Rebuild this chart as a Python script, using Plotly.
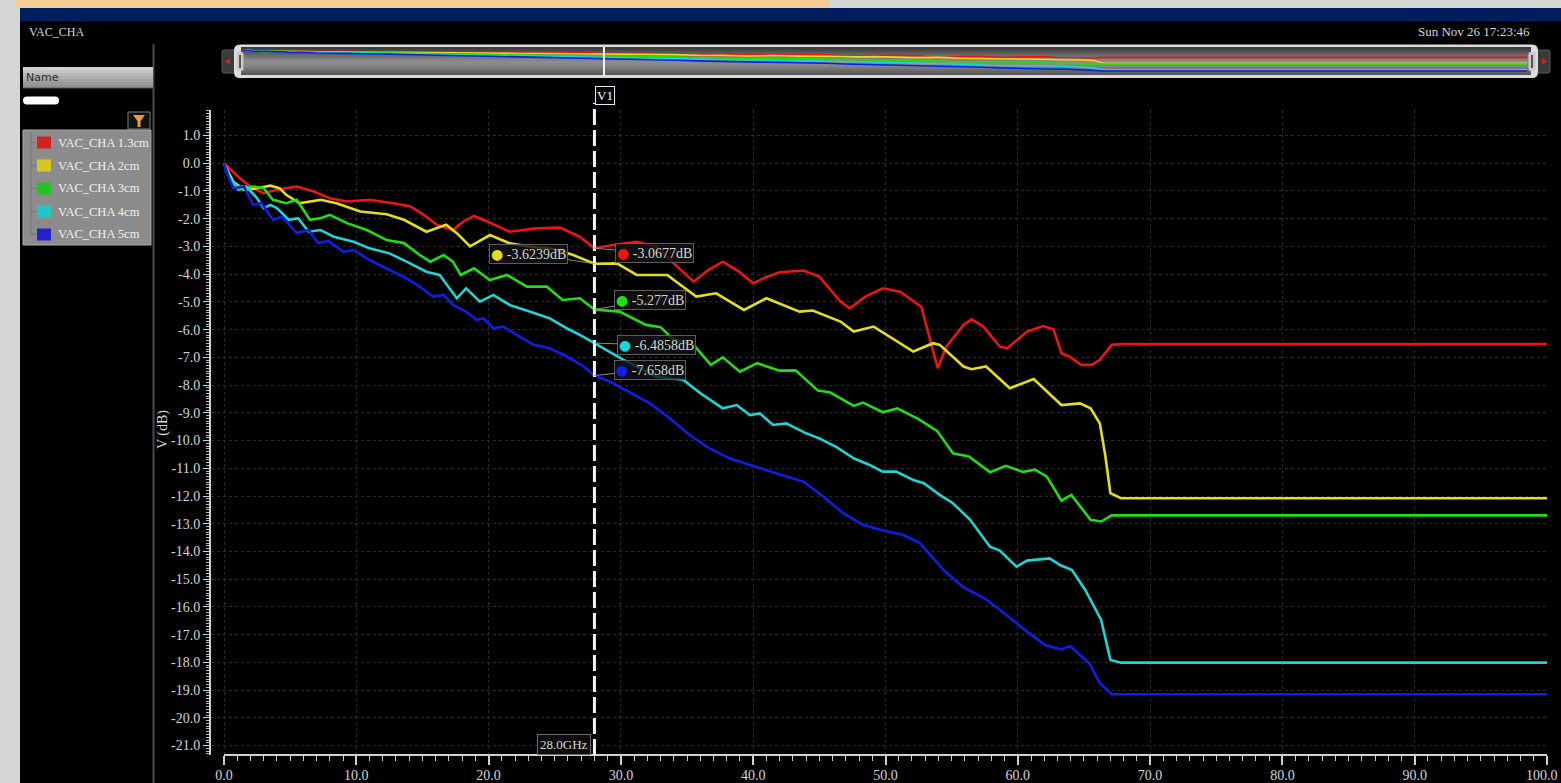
import plotly.graph_objects as go

# ---------------- data: gain vs. frequency for each channel length ----------------
series_names = ["VAC_CHA 1.3cm", "VAC_CHA 2cm", "VAC_CHA 3cm", "VAC_CHA 4cm", "VAC_CHA 5cm"]
line_colors = ["#ec1414", "#e6dc1e", "#22dc14", "#1ed4d4", "#0f1ee6"]
swatch_colors = ["#d42222", "#d2ca22", "#22c222", "#22c6c6", "#2222cc"]

freq_1p3cm = [0, 1.2, 2.2, 3.0, 4.0, 5.5, 6.8, 8.0, 9.3, 11.0, 12.8, 14.1, 15.1, 16.1, 17.3, 18.1,
              18.9, 19.9, 21.6, 23.6, 25.4, 26.9, 28.0, 29.4, 31.2, 32.7, 34.0, 35.5, 36.6, 37.7,
              38.9, 40.0, 41.0, 42.0, 43.8, 45.0, 46.6, 47.3, 48.5, 49.8, 51.1, 52.7, 53.95, 54.6,
              55.9, 56.5, 57.4, 58.65, 59.2, 60.7, 61.9, 62.7, 63.3, 63.9, 64.8, 65.6, 66.2, 67.1,
              68.0, 100.0]
db_1p3cm = [0, -0.54, -0.9, -1.08, -0.96, -0.84, -1.02, -1.26, -1.38, -1.32, -1.44, -1.56, -1.86,
            -2.22, -2.41, -2.1, -1.9, -2.1, -2.47, -2.35, -2.32, -2.65, -3.0677, -2.95, -2.83,
            -3.01, -3.61, -4.27, -3.85, -3.55, -3.9, -4.33, -4.1, -3.93, -3.87, -4.09, -4.99,
            -5.23, -4.8, -4.51, -4.63, -5.17, -7.39, -6.61, -5.83, -5.63, -5.89, -6.61, -6.67,
            -6.07, -5.87, -5.99, -6.85, -6.97, -7.27, -7.27, -7.09, -6.55, -6.52, -6.52]

freq_2cm = [0, 0.7, 1.5, 2.5, 3.5, 4.2, 4.7, 5.7, 7.3, 8.5, 10.3, 12.3, 13.6, 15.3, 16.8, 17.6,
            18.6, 20.1, 21.6, 23.1, 24.9, 26.4, 28.0, 29.7, 31.2, 33.5, 35.7, 37.2, 39.3, 41.0,
            43.5, 44.5, 46.6, 47.6, 49.1, 52.1, 53.6, 54.1, 55.9, 56.5, 57.6, 59.4, 61.2, 63.3,
            64.7, 65.5, 66.2, 66.6, 67.0, 67.8, 100.0]
db_2cm = [0, -0.66, -0.96, -0.9, -0.81, -0.9, -1.14, -1.44, -1.32, -1.44, -1.74, -1.84, -2.04,
          -2.47, -2.22, -2.52, -3.0, -2.59, -2.89, -3.0, -3.09, -3.31, -3.6239, -3.61, -4.03,
          -4.03, -4.81, -4.69, -5.29, -4.87, -5.35, -5.31, -5.71, -6.07, -5.89, -6.79, -6.49,
          -6.55, -7.33, -7.43, -7.33, -8.11, -7.78, -8.72, -8.66, -8.84, -9.38, -10.5, -11.9,
          -12.08, -12.08]

freq_3cm = [0, 0.5, 1.1, 2.2, 3.0, 3.7, 4.7, 5.5, 6.5, 7.3, 8.0, 9.3, 10.8, 12.3, 13.6, 14.8,
            15.6, 16.6, 17.3, 17.9, 18.9, 20.1, 21.4, 22.9, 24.4, 25.6, 26.9, 28.0, 29.9, 31.9,
            33.0, 34.0, 35.5, 36.8, 37.7, 39.0, 40.3, 42.0, 43.2, 44.9, 45.8, 47.6, 48.3, 49.8,
            50.9, 52.5, 53.9, 55.1, 56.3, 57.9, 59.1, 60.4, 61.3, 62.2, 63.3, 64.05, 65.5, 66.3,
            67.1, 100.0]
db_3cm = [0, -0.6, -0.96, -0.84, -0.9, -1.32, -1.44, -1.32, -2.04, -1.98, -1.86, -2.16, -2.41,
          -2.77, -2.88, -3.31, -3.55, -3.31, -3.55, -4.03, -3.79, -4.21, -4.03, -4.45, -4.45,
          -4.93, -4.87, -5.277, -5.35, -5.83, -5.91, -6.37, -6.55, -7.27, -7.0, -7.52, -7.21,
          -7.48, -7.47, -8.2, -8.26, -8.75, -8.63, -8.98, -8.84, -9.23, -9.65, -10.46, -10.57,
          -11.14, -10.91, -11.13, -11.05, -11.3, -12.17, -11.96, -12.86, -12.92, -12.7, -12.7]

freq_4cm = [0, 0.5, 1.0, 1.7, 2.5, 3.0, 3.5, 4.0, 4.9, 5.6, 6.4, 7.3, 8.3, 9.8, 11.0, 12.5, 13.8,
            15.3, 16.3, 17.6, 18.3, 19.35, 20.35, 21.6, 23.1, 24.6, 25.9, 26.9, 28.0, 30.2, 32.7,
            34.7, 36.0, 37.7, 38.75, 39.75, 40.5, 41.5, 42.5, 44.0, 45.0, 46.3, 47.6, 48.8, 49.8,
            50.8, 52.1, 52.9, 54.1, 55.1, 56.4, 57.9, 58.65, 59.9, 60.7, 62.4, 63.2, 64.1, 65.1,
            66.3, 67.0, 67.8, 100.0]
db_4cm = [0, -0.55, -0.84, -0.84, -1.26, -1.62, -1.5, -1.62, -2.04, -1.98, -2.47, -2.41, -2.65,
          -2.83, -3.07, -3.25, -3.55, -3.91, -4.03, -4.87, -4.51, -4.99, -4.75, -5.11, -5.35,
          -5.59, -5.95, -6.19, -6.4858, -7.09, -7.7, -7.81, -8.29, -8.84, -8.72, -9.08, -9.02,
          -9.44, -9.38, -9.74, -9.92, -10.24, -10.64, -10.88, -11.12, -11.12, -11.42, -11.54,
          -11.96, -12.26, -12.86, -13.83, -13.97, -14.55, -14.33, -14.25, -14.49, -14.67,
          -15.39, -16.47, -17.91, -18.01, -18.01]

freq_5cm = [0, 0.35, 0.7, 1.5, 2.2, 2.85, 3.7, 4.4, 5.5, 6.4, 7.1, 7.9, 9.0, 9.8, 11.0, 12.5,
            13.8, 14.8, 15.8, 16.6, 17.3, 18.3, 19.1, 19.6, 20.35, 21.1, 22.1, 23.4, 24.6, 25.9,
            27.2, 28.0, 29.2, 30.7, 32.2, 33.7, 35.2, 36.7, 38.2, 40.0, 41.8, 43.8, 45.3, 46.8,
            48.3, 49.6, 51.3, 52.6, 54.4, 55.9, 57.5, 58.9, 60.7, 62.1, 63.3, 63.95, 65.4, 66.2,
            67.1, 100.0]
db_5cm = [0, -0.5, -0.9, -0.84, -1.5, -1.44, -2.04, -1.93, -2.52, -2.41, -2.88, -2.8, -3.19,
          -3.13, -3.49, -3.85, -4.15, -4.45, -4.81, -4.75, -5.11, -5.35, -5.65, -5.59, -5.95,
          -5.89, -6.19, -6.55, -6.67, -6.97, -7.33, -7.658, -7.88, -8.27, -8.66, -9.2, -9.8,
          -10.28, -10.64, -10.92, -11.18, -11.48, -12.02, -12.62, -13.04, -13.22, -13.4, -13.7,
          -14.67, -15.3, -15.69, -16.2, -16.89, -17.38, -17.53, -17.41, -18.03, -18.75, -19.15,
          -19.15]

all_freq = [freq_1p3cm, freq_2cm, freq_3cm, freq_4cm, freq_5cm]
all_db = [db_1p3cm, db_2cm, db_3cm, db_4cm, db_5cm]

# marker V1 readout
cursor_freq = 28.0
cursor_db = [-3.0677, -3.6239, -5.277, -6.4858, -7.658]
cursor_text = ["-3.0677dB", "-3.6239dB", "-5.277dB", "-6.4858dB", "-7.658dB"]
cursor_label_offset = [(60, 5), (-66, -10), (56, -10), (62, 2), (56, -6)]

x_tick_vals = [0, 10, 20, 30, 40, 50, 60, 70, 80, 90, 100]
x_tick_text = ["0.0", "10.0", "20.0", "30.0", "40.0", "50.0", "60.0", "70.0", "80.0", "90.0", "100.0"]
y_tick_vals = [1, 0, -1, -2, -3, -4, -5, -6, -7, -8, -9, -10, -11, -12, -13, -14, -15, -16, -17,
               -18, -19, -20, -21]
y_tick_text = ["%.1f" % v for v in y_tick_vals]

# ---------------- page geometry helpers (pixel -> paper) ----------------
W, H = 1561, 783
L, R, T, B = 211, 1547, 45, 755


def X(x):
    return (x - L) / (R - L)


def Y(y):
    return (B - y) / (B - T)


SERIF = "Liberation Serif"
TXT = "#d6d6d6"
GRID = "#2a2a2a"

shapes = []
annotations = []


def rect(x0, y0, x1, y1, fill, line_color=None, lw=1, layer="below"):
    shapes.append(dict(type="rect", xref="paper", yref="paper", x0=X(x0), x1=X(x1),
                       y0=Y(y1), y1=Y(y0), fillcolor=fill, layer=layer,
                       line=dict(color=line_color or fill, width=lw if line_color else 0)))


def rounded(x0, y0, x1, y1, r, fill, line_color=None, lw=1, layer="below"):
    p = (f"M {X(x0 + r)},{Y(y0)} L {X(x1 - r)},{Y(y0)} Q {X(x1)},{Y(y0)} {X(x1)},{Y(y0 + r)} "
         f"L {X(x1)},{Y(y1 - r)} Q {X(x1)},{Y(y1)} {X(x1 - r)},{Y(y1)} "
         f"L {X(x0 + r)},{Y(y1)} Q {X(x0)},{Y(y1)} {X(x0)},{Y(y1 - r)} "
         f"L {X(x0)},{Y(y0 + r)} Q {X(x0)},{Y(y0)} {X(x0 + r)},{Y(y0)} Z")
    shapes.append(dict(type="path", xref="paper", yref="paper", path=p, fillcolor=fill,
                       layer=layer, line=dict(color=line_color or fill,
                                              width=lw if line_color else 0)))


def seg(x0, y0, x1, y1, color, w=1, dash="solid", layer="below"):
    shapes.append(dict(type="line", xref="paper", yref="paper", x0=X(x0), x1=X(x1),
                       y0=Y(y0), y1=Y(y1), layer=layer, line=dict(color=color, width=w, dash=dash)))


def text(x, y, s, size=13, color=TXT, family=SERIF, xanchor="left", **kw):
    annotations.append(dict(xref="paper", yref="paper", x=X(x), y=Y(y), text=s, showarrow=False,
                            xanchor=xanchor, yanchor="middle",
                            font=dict(family=family, size=size, color=color), **kw))


# ---------------- window chrome ----------------
rect(0, 0, 20, 783, "#d5d5d5")
rect(0, 0, 830, 8, "#f3cd94")
rect(0, 0, 16, 8, "#d5d5d5")
rect(830, 0, 1561, 8, "#d5d5d5")
rect(20, 8, 1561, 21, "#001e5c")
text(27, 32, "VAC_CHA", size=12)
text(1532, 31, "Sun Nov 26 17:23:46", size=13, xanchor="right")

# left browser panel
seg(153.5, 44, 153.5, 783, "#4a4a4a", w=2)
name_grad = ["#d0d0d0", "#c4c4c4", "#b8b8b8", "#adadad", "#a3a3a3", "#9a9a9a", "#929292"]
for i, c in enumerate(name_grad):
    rect(23, 67 + i * 3, 153, 70 + i * 3, c)
seg(23, 88, 153, 88, "#5a5a5a")
text(24, 77.5, "Name", size=11, color="#2a2a2a", family="DejaVu Sans")
rounded(23, 96.5, 59, 104.5, 4, "#ffffff")
rect(128, 112, 150, 129, "#111111", "#7a7a7a", 1)
shapes.append(dict(type="path", xref="paper", yref="paper", layer="below",
                   path=(f"M {X(133)},{Y(115)} L {X(145)},{Y(115)} L {X(140.5)},{Y(121)} "
                         f"L {X(140.5)},{Y(127)} L {X(137.5)},{Y(127)} L {X(137.5)},{Y(121)} Z"),
                   fillcolor="#f29a36", line=dict(width=0)))
rect(23, 130, 151, 245, "#8c8c8c", "#a8a8a8", 1)
seg(31, 133, 31, 235, "#747474")
for i, (name, sw) in enumerate(zip(series_names, swatch_colors)):
    yc = 142.5 + i * 23
    seg(31, yc, 36, yc, "#747474")
    rect(37, yc - 6, 51, yc + 6, sw)
    text(56, yc, name, size=12.5, color="#f2f2f2")

# ---------------- overview strip ----------------
rounded(222, 50, 236, 73, 2, "#3a3a3a", "#5a5a5a", 1)
rounded(1536, 50, 1550, 73, 2, "#3a3a3a", "#5a5a5a", 1)
shapes.append(dict(type="path", xref="paper", yref="paper", layer="below",
                   path=f"M {X(225)},{Y(61.5)} L {X(230)},{Y(58.5)} L {X(230)},{Y(64.5)} Z",
                   fillcolor="#e02020", line=dict(width=0)))
shapes.append(dict(type="path", xref="paper", yref="paper", layer="below",
                   path=f"M {X(1547)},{Y(61.5)} L {X(1542)},{Y(58.5)} L {X(1542)},{Y(64.5)} Z",
                   fillcolor="#e02020", line=dict(width=0)))
rounded(234, 44.5, 1538, 78, 6, "#dcdcdc")
strip_grad = ["#3c3c3c", "#464646", "#555555", "#626262", "#6e6e6e", "#7a7a7a", "#858585",
              "#8c8c8c", "#8a8a8a", "#848484", "#7a7a7a", "#6e6e6e", "#636363", "#5a5a5a"]
for i, c in enumerate(strip_grad):
    rect(241, 47 + i * 2, 1531, 49 + i * 2, c)
rounded(236.5, 52, 243.5, 71, 2, "#c9c9c9")
seg(240, 55, 240, 68, "#555555", w=2)
rounded(1528.5, 52, 1535.5, 71, 2, "#c9c9c9")
seg(1532, 55, 1532, 68, "#555555", w=2)

# ---------------- traces ----------------
fig = go.Figure()
for f, d, c, n in zip(all_freq, all_db, line_colors, series_names):
    fig.add_trace(go.Scatter(x=f, y=d, mode="lines", name=n,
                             line=dict(color=c, width=2.6),
                             xaxis="x", yaxis="y", showlegend=False, hoverinfo="skip"))
for f, d, c, n in zip(all_freq, all_db, line_colors, series_names):
    fig.add_trace(go.Scatter(x=f, y=d, mode="lines", name=n, line=dict(color=c, width=1.6),
                             xaxis="x2", yaxis="y2", showlegend=False, hoverinfo="skip"))

# x axis baseline (from 0 to 100)
shapes.append(dict(type="line", xref="x", yref="paper", x0=0, x1=100, y0=0, y1=0,
                   line=dict(color="#d0d0d0", width=2), layer="above"))

# last x tick label sits against the right page edge, so it is right-aligned there
last_x_label = x_tick_text[-1]
axis_tick_text = x_tick_text[:-1] + [""]
text(1560, 775, last_x_label, size=14, xanchor="right")

# V1 cursor
shapes.append(dict(type="line", xref="x", yref="paper", x0=cursor_freq, x1=cursor_freq,
                   y0=0, y1=Y(103), layer="above",
                   line=dict(color="#f4f4f4", width=3, dash="16px,5px")))
shapes.append(dict(type="line", xref="x2", yref="paper", x0=cursor_freq, x1=cursor_freq,
                   y0=Y(76), y1=Y(47), layer="above", line=dict(color="#f4f4f4", width=2)))
annotations.append(dict(xref="x", yref="paper", x=cursor_freq, y=Y(95), text="V1",
                        showarrow=False, xanchor="left", yanchor="middle", xshift=1,
                        font=dict(family=SERIF, size=13, color="#ffffff"),
                        bgcolor="#000000", bordercolor="#e8e8e8", borderwidth=1, borderpad=1))
annotations.append(dict(xref="x", yref="paper", x=cursor_freq, y=Y(744), text="28.0GHz",
                        showarrow=False, xanchor="right", yanchor="middle", xshift=-3,
                        font=dict(family=SERIF, size=13, color=TXT),
                        bgcolor="#0c0c0c", bordercolor="#6a6a6a", borderwidth=1, borderpad=2))

for val, lab, col, (ax, ay) in zip(cursor_db, cursor_text, line_colors, cursor_label_offset):
    annotations.append(dict(
        xref="x", yref="y", x=cursor_freq, y=val, ax=ax, ay=ay, showarrow=True,
        arrowhead=0, arrowwidth=1, arrowcolor="#8c8c8c", standoff=0,
        text=f"<span style='color:{col}; font-family:DejaVu Sans'>●</span> {lab}",
        font=dict(family=SERIF, size=14, color=TXT),
        bgcolor="rgba(18,18,18,0.82)", bordercolor="#5c5c5c", borderwidth=1, borderpad=1))

text(163, 430, "V (dB)", size=14, xanchor="center", textangle=-90)

fig.update_layout(
    width=W, height=H, autosize=False,
    margin=dict(l=L, r=W - R, t=T, b=H - B, pad=0),
    paper_bgcolor="#000000", plot_bgcolor="rgba(0,0,0,0)",
    showlegend=False, hovermode=False,
    shapes=shapes, annotations=annotations,
    xaxis=dict(domain=[0, 1], range=[-0.983, 100], tickvals=x_tick_vals, ticktext=axis_tick_text,
               showline=False, zeroline=False, ticks="outside", ticklen=9, tickwidth=1.5,
               tickcolor="#d0d0d0", tickfont=dict(family=SERIF, size=14, color=TXT),
               ticklabelstandoff=-2,
               showgrid=True, gridcolor=GRID, griddash="dot", gridwidth=1,
               minor=dict(dtick=1, tick0=0, ticks="outside", ticklen=5, tickwidth=1.2,
                          tickcolor="#d0d0d0", showgrid=False),
               automargin=False, fixedrange=True),
    yaxis=dict(domain=[0, Y(110)], range=[-21.34, 1.92], tickvals=y_tick_vals,
               ticktext=y_tick_text, showline=True, linecolor="#d0d0d0", linewidth=2,
               zeroline=False, ticks="outside", ticklen=6, tickwidth=1.2, tickcolor="#d0d0d0",
               tickfont=dict(family=SERIF, size=14, color=TXT),
               showgrid=True, gridcolor=GRID, griddash="dot", gridwidth=1,
               minor=dict(dtick=0.1, tick0=0, ticks="outside", ticklen=3, tickwidth=1,
                          tickcolor="#bdbdbd", showgrid=False),
               automargin=False, fixedrange=True),
    xaxis2=dict(domain=[X(245), X(1527)], range=[0, 100], visible=False, anchor="y2",
                fixedrange=True),
    yaxis2=dict(domain=[Y(74), Y(49)], range=[-21.9, 1.2], visible=False, anchor="x2",
                fixedrange=True),
)

fig.write_html("out.html", config={"displayModeBar": False},
               post_script="document.body.style.margin='0';")
